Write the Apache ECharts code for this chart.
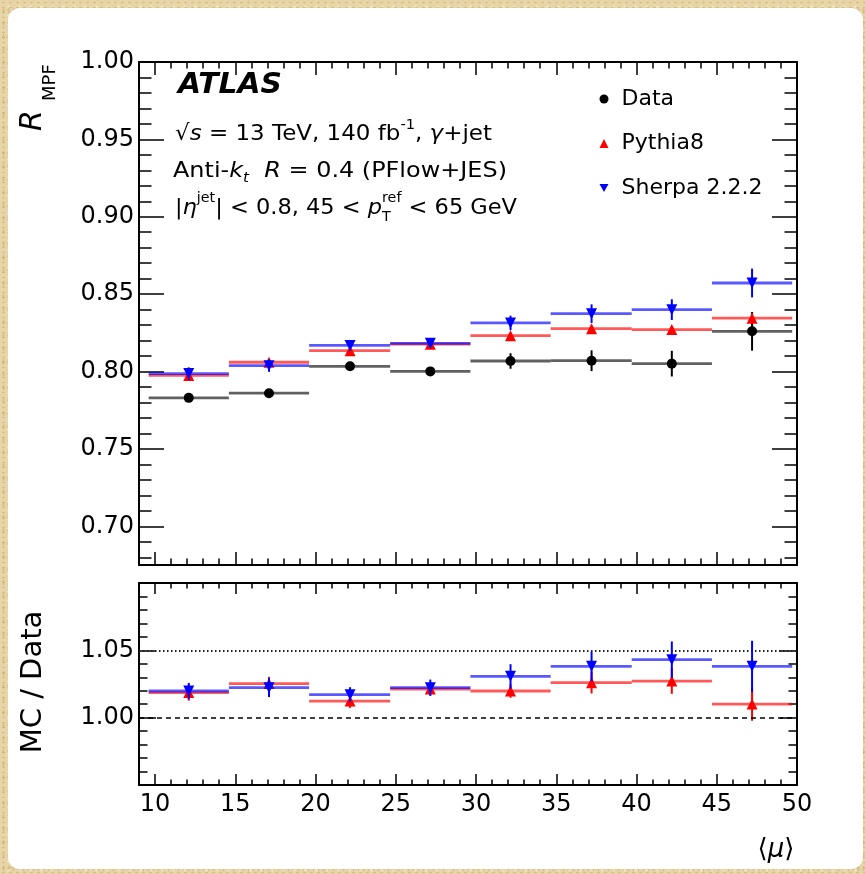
<!DOCTYPE html>
<html>
<head>
<meta charset="utf-8">
<script src="https://cdn.jsdelivr.net/npm/echarts@6/dist/echarts.min.js"></script>
<style>
html,body{margin:0;padding:0;width:865px;height:874px;overflow:hidden;}
body{
  background-color:#e8d5a7;
  background-image:
    radial-gradient(rgba(185,145,85,.35) 1px, transparent 1.6px),
    radial-gradient(rgba(255,246,222,.55) 1px, transparent 1.6px),
    radial-gradient(rgba(165,125,65,.25) .8px, transparent 1.3px);
  background-size:7px 5px, 11px 9px, 5px 13px;
  background-position:0 0, 3px 2px, 1px 4px;
}
#panel{position:absolute;left:8px;top:8px;width:855px;height:861px;background:#fff;border-radius:12px;}
#chart{position:absolute;left:0;top:0;width:865px;height:874px;}
</style>
</head>
<body>
<div id="panel"></div>
<div id="chart"></div>
<script>
// ---------------- data ----------------
const binLow   = [9.6, 14.6, 19.6, 24.65, 29.65, 34.65, 39.7, 44.7];
const binHigh  = [14.6, 19.6, 24.65, 29.65, 34.65, 39.7, 44.7, 49.7];
const muCenter = [12.1, 17.1, 22.15, 27.15, 32.15, 37.2, 42.2, 47.2];

const dataR      = [0.7830, 0.7860, 0.8034, 0.8001, 0.8068, 0.8070, 0.8051, 0.8260];
const dataErr    = [0.0015, 0.0015, 0.0020, 0.0020, 0.0050, 0.0067, 0.0083, 0.0125];
const pythiaR    = [0.7975, 0.8060, 0.8135, 0.8177, 0.8232, 0.8277, 0.8271, 0.8345];
const pythiaErr  = [0.0015, 0.0015, 0.0015, 0.0015, 0.0018, 0.0020, 0.0020, 0.0032];
const sherpaR    = [0.7987, 0.8038, 0.8169, 0.8182, 0.8314, 0.8374, 0.8400, 0.8572];
const sherpaErr  = [0.0040, 0.0040, 0.0035, 0.0030, 0.0047, 0.0060, 0.0067, 0.0093];

const pythiaRatio    = [1.0186, 1.0253, 1.0123, 1.0213, 1.0198, 1.0260, 1.0272, 1.0101];
const pythiaRatioErr = [0.0060, 0.0050, 0.0050, 0.0050, 0.0050, 0.0080, 0.0095, 0.0124];
const sherpaRatio    = [1.0198, 1.0223, 1.0171, 1.0223, 1.0307, 1.0381, 1.0431, 1.0381];
const sherpaRatioErr = [0.0060, 0.0070, 0.0055, 0.0060, 0.0090, 0.0110, 0.0135, 0.0190];

const xTickLabels   = [10, 15, 20, 25, 30, 35, 40, 45, 50];
const yTopTickLabels = [0.70, 0.75, 0.80, 0.85, 0.90, 0.95, 1.00];
const yBotTickLabels = [1.00, 1.05];
const refLines = [1.05, 1.00];

// ---------------- helpers ----------------
const FONT = '"DejaVu Sans", "Liberation Sans", sans-serif';
function minorTicks(a, b, step, majors) {
  const out = [];
  const n = Math.round((b - a) / step);
  for (let i = 0; i <= n; i++) {
    const v = +(a + i * step).toFixed(6);
    if (!majors.some(m => Math.abs(m - v) < 1e-6)) out.push(v);
  }
  return out;
}
const xMinor = minorTicks(9, 50, 1, xTickLabels);
const yTopMinor = minorTicks(0.68, 1.0, 0.01, yTopTickLabels);
const yBotMinor = minorTicks(0.95, 1.10, 0.01, [1.00, 1.05, 1.10]);
const yBotMajor = [1.00, 1.05];

function xAx(grid, pos, ticks, len, line, labels) {
  return {
    type: 'value', gridIndex: grid, position: pos, min: 9, max: 50,
    axisLine: {show: line, onZero: false, lineStyle: {color: '#000', width: 2}},
    axisTick: {show: true, inside: true, length: len, customValues: ticks, lineStyle: {color: '#000', width: 1.5}},
    axisLabel: {show: labels, customValues: xTickLabels, margin: 8, color: '#000', fontSize: 24, fontFamily: FONT},
    splitLine: {show: false}
  };
}
function yAx(grid, pos, min, max, ticks, len, line, labels, labelVals) {
  return {
    type: 'value', gridIndex: grid, position: pos, min: min, max: max,
    axisLine: {show: line, onZero: false, lineStyle: {color: '#000', width: 2}},
    axisTick: {show: true, inside: true, length: len, customValues: ticks, lineStyle: {color: '#000', width: 1.5}},
    axisLabel: {show: labels, customValues: labelVals, margin: 5, color: '#000', fontSize: 24, fontFamily: FONT,
                formatter: v => v.toFixed(2)},
    splitLine: {show: false}
  };
}

function rows(lo, hi, c, y, e) {
  return lo.map((v, i) => [v, hi[i], c[i], y[i], e[i]]);
}
function binRenderer(color, op) {
  return function (params, api) {
    const y = api.value(3), e = api.value(4), xc = api.value(2);
    const a = api.coord([api.value(0), y]);
    const b = api.coord([api.value(1), y]);
    const t = api.coord([xc, y + e]);
    const d = api.coord([xc, y - e]);
    return {type: 'group', children: [
      {type: 'line', shape: {x1: a[0], y1: a[1], x2: b[0], y2: b[1]}, style: {stroke: color, lineWidth: 2.8, opacity: op}},
      {type: 'line', shape: {x1: t[0], y1: t[1], x2: d[0], y2: d[1]}, style: {stroke: color, lineWidth: 2}}
    ]};
  };
}
function binSeries(name, xi, yi, data, color, op, z) {
  return {name: name, type: 'custom', xAxisIndex: xi, yAxisIndex: yi, z: z,
          renderItem: binRenderer(color, op), encode: {x: [0, 1, 2], y: [3]}, data: data, silent: true};
}
const DOWN_TRI = 'path://M0,0L10,0L5,9Z';
function markerSeries(name, xi, yi, xs, ys, symbol, size, color, z) {
  return {name: name, type: 'scatter', xAxisIndex: xi, yAxisIndex: yi, z: z,
          symbol: symbol, symbolSize: size, itemStyle: {color: color, opacity: 1},
          data: xs.map((x, i) => [x, ys[i]]), silent: true};
}

// text measurement for the multi-part labels
const mctx = document.createElement('canvas').getContext('2d');
function tw(t, size, it, bold) {
  mctx.font = (it ? 'italic ' : '') + (bold ? 'bold ' : '') + size + 'px ' + FONT;
  return mctx.measureText(t).width;
}
function tx(x, y, t, size, it, bold) {
  return {type: 'text', x: x, y: y, style: {text: t, fontSize: size, fontFamily: FONT,
          fontStyle: it ? 'italic' : 'normal', fontWeight: bold ? 'bold' : 'normal',
          fill: '#000', align: 'left', verticalAlign: 'middle'}};
}
function line(x0, cy, runs, targetW) {
  let x = 0; const kids = [];
  for (const r of runs) {
    const s = r.s || 22;
    if (r.stack) {
      kids.push(tx(x, r.dy[0], r.stack[0], s, false));
      kids.push(tx(x, r.dy[1], r.stack[1], s, false));
      x += Math.max(tw(r.stack[0], s), tw(r.stack[1], s));
    } else {
      kids.push(tx(x, r.dy || 0, r.t, s, r.it, r.b));
      x += tw(r.t, s, r.it, r.b);
    }
  }
  return {type: 'group', x: x0, y: cy, scaleX: targetW ? targetW / x : 1, children: kids};
}

const graphics = [
  line(178, 86, [{t: 'ATLAS', s: 28, it: true, b: true}], 104),
  line(175, 134, [{t: '\u221A'}, {t: 's', it: true}, {t: ' = 13 TeV, 140 fb'}, {t: '-1', s: 14, dy: -9},
                  {t: ', '}, {t: '\u03B3', it: true}, {t: '+jet'}], 317),
  line(173, 171.5, [{t: 'Anti-'}, {t: 'k', it: true}, {t: 't', it: true, s: 14, dy: 7}, {t: '  '},
                    {t: 'R', it: true}, {t: ' = 0.4 (PFlow+JES)'}], 334),
  line(175, 208.5, [{t: '|'}, {t: '\u03B7', it: true}, {t: 'jet', s: 14, dy: -10}, {t: '| < 0.8, 45 < '},
                    {t: 'p', it: true}, {stack: ['ref', 'T'], s: 14, dy: [-10, 9]}, {t: ' < 65 GeV'}], 342),
  {type: 'text', x: 33, y: 131, rotation: Math.PI / 2,
   style: {text: 'R', fontSize: 30, fontStyle: 'italic', fontFamily: FONT, fill: '#000', align: 'left', verticalAlign: 'middle'}},
  {type: 'text', x: 50, y: 101, rotation: Math.PI / 2,
   style: {text: 'MPF', fontSize: 18, fontFamily: FONT, fill: '#000', align: 'left', verticalAlign: 'middle'}},
  {type: 'text', x: 33, y: 682, rotation: Math.PI / 2,
   style: {text: 'MC / Data', fontSize: 29, fontFamily: FONT, fill: '#000', align: 'center', verticalAlign: 'middle'}},
  {type: 'text', x: 776, y: 850,
   style: {text: '{a|\u27E8}{b|\u03BC}{a|\u27E9}', align: 'center', verticalAlign: 'middle',
           rich: {a: {fontSize: 26, fontFamily: FONT, fill: '#000'},
                  b: {fontSize: 26, fontStyle: 'italic', fontFamily: FONT, fill: '#000'}}}}
];

const chart = echarts.init(document.getElementById('chart'), null, {renderer: 'canvas'});
chart.setOption({
  animation: false,
  backgroundColor: 'transparent',
  textStyle: {fontFamily: FONT},
  grid: [
    {left: 139, top: 62, width: 658, height: 503},
    {left: 139, top: 583, width: 658, height: 202}
  ],
  xAxis: [
    xAx(0, 'bottom', xTickLabels, 13, true, false),
    xAx(0, 'bottom', xMinor, 6.5, false, false),
    xAx(0, 'top', xTickLabels, 13, true, false),
    xAx(0, 'top', xMinor, 6.5, false, false),
    xAx(1, 'bottom', xTickLabels, 11, true, true),
    xAx(1, 'bottom', xMinor, 5.5, false, false),
    xAx(1, 'top', xTickLabels, 11, true, false),
    xAx(1, 'top', xMinor, 5.5, false, false)
  ],
  yAxis: [
    yAx(0, 'left', 0.675, 1.0, yTopTickLabels, 25, true, true, yTopTickLabels),
    yAx(0, 'left', 0.675, 1.0, yTopMinor, 12.5, false, false, yTopTickLabels),
    yAx(0, 'right', 0.675, 1.0, yTopTickLabels, 25, true, false, yTopTickLabels),
    yAx(0, 'right', 0.675, 1.0, yTopMinor, 12.5, false, false, yTopTickLabels),
    yAx(1, 'left', 0.95, 1.10, yBotMajor, 17, true, true, yBotTickLabels),
    yAx(1, 'left', 0.95, 1.10, yBotMinor, 8.5, false, false, yBotTickLabels),
    yAx(1, 'right', 0.95, 1.10, yBotMajor, 17, true, false, yBotTickLabels),
    yAx(1, 'right', 0.95, 1.10, yBotMinor, 8.5, false, false, yBotTickLabels)
  ],
  legend: {
    orient: 'vertical', left: 594.5, top: 83, itemWidth: 9, itemHeight: 9, itemGap: 22.5,
    selectedMode: false,
    textStyle: {fontSize: 22, fontFamily: FONT, color: '#000', padding: [0, 0, 0, 8]},
    data: [
      {name: 'Data', icon: 'circle', itemStyle: {color: '#000'}},
      {name: 'Pythia8', icon: 'triangle', itemStyle: {color: '#ff0000'}},
      {name: 'Sherpa 2.2.2', icon: DOWN_TRI, itemStyle: {color: '#0000ff'}}
    ]
  },
  series: [
    binSeries('Data bins', 0, 0, rows(binLow, binHigh, muCenter, dataR, dataErr), '#000000', 0.62, 2),
    markerSeries('Data', 0, 0, muCenter, dataR, 'circle', 10, '#000000', 3),
    binSeries('Pythia8 bins', 0, 0, rows(binLow, binHigh, muCenter, pythiaR, pythiaErr), '#ff0000', 0.65, 4),
    markerSeries('Pythia8', 0, 0, muCenter, pythiaR, 'triangle', 11, '#ff0000', 5),
    binSeries('Sherpa bins', 0, 0, rows(binLow, binHigh, muCenter, sherpaR, sherpaErr), '#0000ff', 0.65, 6),
    markerSeries('Sherpa 2.2.2', 0, 0, muCenter, sherpaR, DOWN_TRI, 11, '#0000ff', 7),

    Object.assign(binSeries('Pythia8 ratio bins', 4, 4, rows(binLow, binHigh, muCenter, pythiaRatio, pythiaRatioErr), '#ff0000', 0.65, 4), {
      markLine: {silent: true, symbol: ['none', 'none'], label: {show: false}, animation: false,
        data: [
          {yAxis: refLines[0], lineStyle: {type: [1.5, 2.5], width: 2, color: '#222'}},
          {yAxis: refLines[1], lineStyle: {type: [5, 4], width: 1.5, color: '#000'}}
        ]}
    }),
    markerSeries('Pythia8 ratio', 4, 4, muCenter, pythiaRatio, 'triangle', 11, '#ff0000', 5),
    binSeries('Sherpa ratio bins', 4, 4, rows(binLow, binHigh, muCenter, sherpaRatio, sherpaRatioErr), '#0000ff', 0.65, 6),
    markerSeries('Sherpa ratio', 4, 4, muCenter, sherpaRatio, DOWN_TRI, 11, '#0000ff', 7)
  ],
  graphic: graphics
});
</script>
</body>
</html>
